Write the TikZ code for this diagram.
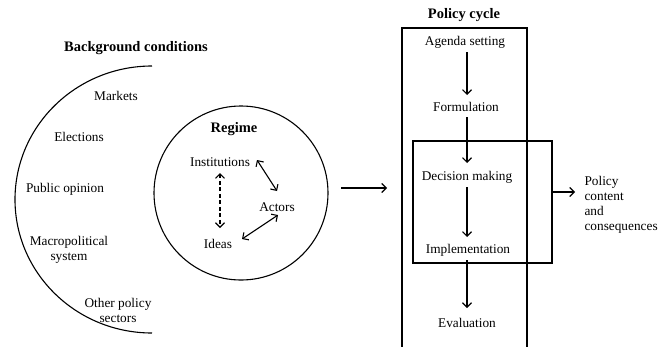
\documentclass[tikz,border=0pt]{standalone}
\usepackage{fontspec}
\setmainfont{Liberation Serif}
\usetikzlibrary{arrows.meta}
\begin{document}
\begin{tikzpicture}[x=1pt,y=-1pt,
  line width=1.1pt,
  txt/.style={inner sep=0pt,font=\fontsize{13.3}{15}\selectfont,align=center},
  ttl/.style={inner sep=0pt,font=\fontsize{14.5}{17}\selectfont\bfseries},
  arr/.style={-{Straight Barb[length=4.5pt,width=9pt]}},
  darr/.style={{Straight Barb[length=4.5pt,width=9pt]}-{Straight Barb[length=4.5pt,width=9pt]}},
  boxx/.style={draw,rectangle,inner sep=0pt}]
\useasboundingbox (0,0) rectangle (666,346);
% Background conditions
\node[ttl] (bg) at (136,48) {Background conditions};
\draw (152,333) arc[start angle=90,end angle=270,x radius=137,y radius=133.5];
\node[txt] (mk) at (116,96) {Markets};
\node[txt] (el) at (79,137) {Elections};
\node[txt] (po) at (65,189) {Public opinion};
\node[txt] (mp) at (69,250) {Macropolitical\\system};
\node[txt] (op) at (118,310) {Other policy\\sectors};
% Regime
\node[draw,circle,minimum size=174pt,inner sep=0pt] (reg) at (241,193) {};
\node[ttl] (rt) at (234,129) {Regime};
\node[txt] (inst) at (220,162) {Institutions};
\node[txt] (act) at (277,207) {Actors};
\node[txt] (ideas) at (218,244) {Ideas};
\draw[darr,dash pattern=on 4pt off 2.5pt] (220,173) -- (220,228);
\draw[darr] (257,160) -- (277,191);
\draw[darr] (278,215) -- (242,239);
% arrow regime -> policy cycle
\coordinate (pcin) at (387,188);
\draw[arr] (341,188) -- (pcin);
% Policy cycle
\node[ttl] (pct) at (464,15) {Policy cycle};
\draw (402,350) -- (402,28) -- (527,28) -- (527,350);
\node[boxx,minimum width=139pt,minimum height=122pt] (inner) at (482.5,202) {};
\node[txt] (ag) at (465,42) {Agenda setting};
\node[txt] (fo) at (466,107) {Formulation};
\node[txt] (dm) at (467,177) {Decision making};
\node[txt] (im) at (468,250) {Implementation};
\node[txt] (ev) at (467,323) {Evaluation};
\draw[arr] (467,52) -- (467,95);
\draw[arr] (467,117) -- (467,163);
\draw[arr] (467,187) -- (467,237);
\draw[arr] (467,260) -- (467,308);
\node[txt,align=left,anchor=west] (out) at (584,204.5) {Policy\\content\\and\\consequences};
\draw[arr] (inner.east |- 0,192) -- (575,192);
\end{tikzpicture}
\end{document}
